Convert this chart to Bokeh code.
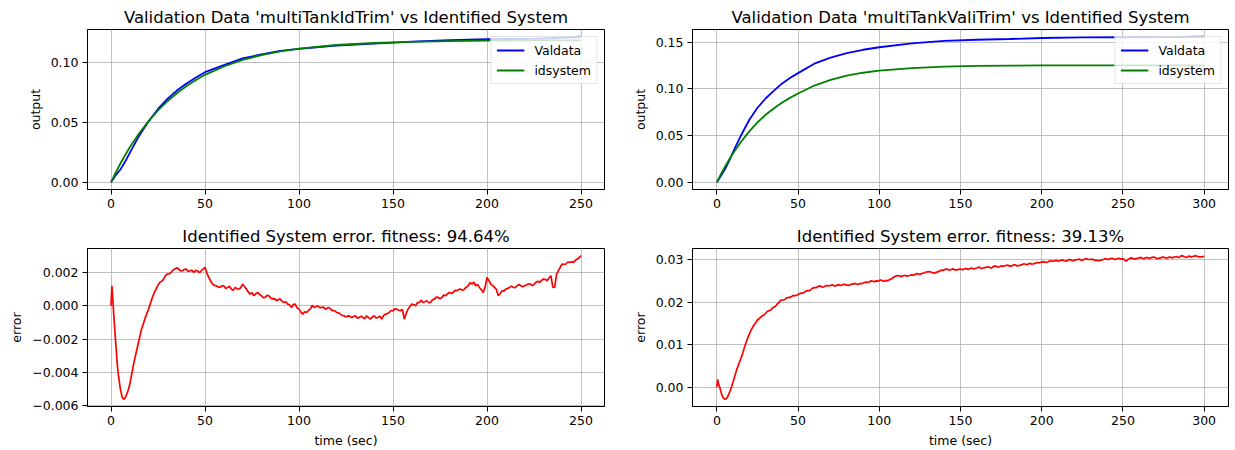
import numpy as np
from bokeh.plotting import figure
from bokeh.layouts import gridplot
from bokeh.models import Range1d, FixedTicker, NumeralTickFormatter, CustomJSTickFormatter
from bokeh.embed import file_html
from bokeh.resources import INLINE

FONT = "DejaVu Sans"

# ---------------------------------------------------------------------------
# Data set 1: 'multiTankIdTrim'
# ---------------------------------------------------------------------------
t_out_id = [0, 2.5, 5, 7.5, 10, 15, 20, 25, 30, 35, 40, 45, 50, 60, 70, 80, 90,
            100, 120, 140, 160, 180, 200, 225, 250]
valdata_id = [0.0, 0.0059, 0.0107, 0.0171, 0.0246, 0.0390, 0.0510, 0.0614, 0.0698,
              0.0768, 0.0826, 0.0876, 0.0922, 0.0982, 0.1038, 0.1071, 0.1100,
              0.1117, 0.1146, 0.1161, 0.1178, 0.1191, 0.1200, 0.1201, 0.1219]
idsystem_id = [0.0, 0.0081, 0.0157, 0.0226, 0.0293, 0.0410, 0.0512, 0.0602, 0.0679,
               0.0746, 0.0804, 0.0855, 0.0900, 0.0970, 0.1025, 0.1065, 0.1096,
               0.1119, 0.1150, 0.1167, 0.1177, 0.1183, 0.1186, 0.1188, 0.1189]

# error samples: every 0.5 s up to 4 s, then every second
t_err_id = np.concatenate([np.arange(0, 4.5, 0.5), np.arange(5, 251)])
error_id = [
    0.0000, 0.0012, 0.0003, -0.0006, -0.0014, -0.0022, -0.0030, -0.0037, -0.0042,
    -0.0050, -0.0055, -0.0056, -0.0054, -0.0051, -0.0047, -0.0041, -0.0035, -0.0030,
    -0.0025, -0.0020, -0.0015,
    -0.00115, -0.0008, -0.00048, -0.0002, 0.00015, 0.0005, 0.00078, 0.0010, 0.00125, 0.0014,
    0.00148, 0.0016, 0.00182, 0.0019, 0.00192, 0.0020, 0.00214, 0.0022, 0.00228, 0.0022,
    0.00209, 0.0021, 0.00218, 0.0022, 0.00205, 0.0021, 0.00213, 0.0020, 0.00212, 0.0021,
    0.00198, 0.0021, 0.00219, 0.0023, 0.00196, 0.0017, 0.00148, 0.0013, 0.00122, 0.0012,
    0.00113, 0.0011, 0.00119, 0.0012, 0.00104, 0.0011, 0.00117, 0.0010, 0.00092, 0.0011,
    0.00102, 0.0010, 0.00108, 0.0013, 0.00116, 0.0010, 0.00083, 0.0007, 0.00078, 0.0006,
    0.00071, 0.0008, 0.00068, 0.0006, 0.00049, 0.0005, 0.00062, 0.0006, 0.00046, 0.0004,
    0.00043, 0.0003, 0.00038, 0.0004, 0.00027, 0.0002, 0.00024, 0.0001, 0.00006, -0.0001,
    0.00008, 0.0001, -0.00012, -0.0002, -0.00038, -0.0005, -0.00036, -0.0004, -0.00028, -0.0002,
    0.00002, -0.0001, -0.00006, 0.0000, -0.00012, -0.0001, -0.00008, -0.0002, -0.00014, -0.0001,
    -0.00022, -0.0003, -0.00028, -0.0004, -0.00042, -0.0005, -0.00058, -0.0006, -0.00068, -0.0006,
    -0.00062, -0.0007, -0.00064, -0.0006, -0.00074, -0.0007, -0.00062, -0.0007, -0.00078, -0.0006,
    -0.00071, -0.0008, -0.00067, -0.0006, -0.00073, -0.0007, -0.00062, -0.0008, -0.00058, -0.0005,
    -0.00047, -0.0004, -0.00028, -0.0003, -0.00018, -0.0002, -0.00027, -0.0003, -0.00022, -0.0008,
    -0.00046, -0.0002, -0.00004, 0.0001, 0.00006, 0.0000, 0.00018, 0.0002, 0.00032, 0.0002,
    0.00024, 0.0003, 0.00018, 0.0002, 0.00036, 0.0004, 0.00052, 0.0005, 0.00042, 0.0005,
    0.00064, 0.0006, 0.00072, 0.0008, 0.00074, 0.0008, 0.00092, 0.0009, 0.00098, 0.0010,
    0.00092, 0.0010, 0.00112, 0.0012, 0.00138, 0.0013, 0.00142, 0.0012, 0.00128, 0.0011,
    0.00096, 0.0008, 0.00112, 0.0017, 0.00152, 0.0013, 0.00122, 0.0011, 0.00098, 0.0006,
    0.00072, 0.0009, 0.00088, 0.0010, 0.00104, 0.0011, 0.00118, 0.0011, 0.00108, 0.0012,
    0.00128, 0.0012, 0.00114, 0.0012, 0.00124, 0.0013, 0.00132, 0.0012, 0.00128, 0.0014,
    0.00148, 0.0014, 0.00152, 0.0016, 0.00158, 0.0015, 0.00168, 0.0018, 0.00112, 0.0011,
    0.00188, 0.0021, 0.00232, 0.0025, 0.00248, 0.0025, 0.00262, 0.0026, 0.00264, 0.0026,
    0.00272, 0.0028, 0.00288, 0.0030,
]
fitness_id = "94.64%"

# ---------------------------------------------------------------------------
# Data set 2: 'multiTankValiTrim'
# ---------------------------------------------------------------------------
t_out_vali = [0, 2.5, 5, 7.5, 10, 15, 20, 25, 30, 35, 40, 45, 50, 60, 70, 80, 90,
              100, 120, 140, 160, 180, 200, 225, 250, 275, 300]
valdata_vali = [0.0, 0.0070, 0.0138, 0.0226, 0.0324, 0.0506, 0.0669, 0.0797, 0.0896,
                0.0978, 0.1055, 0.1115, 0.1168, 0.1269, 0.1334, 0.1381, 0.1418,
                0.1445, 0.1486, 0.1513, 0.1525, 0.1533, 0.1544, 0.1550, 0.1552,
                0.1554, 0.1557]
idsystem_vali = [0.0, 0.0086, 0.0166, 0.0241, 0.0311, 0.0436, 0.0544, 0.0640, 0.0722,
                 0.0790, 0.0850, 0.0903, 0.0950, 0.1035, 0.1095, 0.1140, 0.1172,
                 0.1194, 0.1222, 0.1238, 0.1245, 0.1248, 0.1250, 0.1250, 0.1250,
                 0.1250, 0.1250]

t_err_vali = np.concatenate([np.arange(0, 4.5, 0.5), np.arange(5, 301)])
error_vali = [
    0.0000, 0.0019, 0.0008, 0.0004, -0.0003, -0.0010, -0.0017, -0.0022, -0.0025,
    -0.0028, -0.0026, -0.0019, -0.0010, 0.0001, 0.0013, 0.0026, 0.0039, 0.0050,
    0.0060, 0.0070, 0.0081,
    0.0094, 0.0106, 0.0116, 0.0125, 0.0134, 0.0141, 0.0147, 0.0152, 0.0158, 0.0161,
    0.0165, 0.0168, 0.0170, 0.0174, 0.0178, 0.0180, 0.0181, 0.0185, 0.0188, 0.0190,
    0.0195, 0.0198, 0.0203, 0.0205, 0.0205, 0.0207, 0.0210, 0.0211, 0.0211, 0.0213,
    0.0216, 0.0215, 0.0216, 0.0218, 0.0220, 0.0221, 0.0221, 0.0224, 0.0226, 0.0227,
    0.0227, 0.0230, 0.0233, 0.0234, 0.0234, 0.0236, 0.0238, 0.0237, 0.0235, 0.0236,
    0.0238, 0.0239, 0.0238, 0.0239, 0.0241, 0.0238, 0.0238, 0.0240, 0.0241, 0.0239,
    0.0240, 0.0242, 0.0241, 0.0240, 0.0239, 0.0241, 0.0242, 0.0243, 0.0244, 0.0242,
    0.0242, 0.0244, 0.0243, 0.0245, 0.0246, 0.0247, 0.0246, 0.0248, 0.0250, 0.0249,
    0.0248, 0.0250, 0.0249, 0.0251, 0.0252, 0.0250, 0.0249, 0.0251, 0.0250, 0.0252,
    0.0254, 0.0256, 0.0259, 0.0261, 0.0262, 0.0262, 0.0260, 0.0261, 0.0262, 0.0263,
    0.0261, 0.0262, 0.0263, 0.0264, 0.0263, 0.0265, 0.0267, 0.0266, 0.0265, 0.0267,
    0.0268, 0.0269, 0.0271, 0.0271, 0.0272, 0.0270, 0.0269, 0.0268, 0.0270, 0.0271,
    0.0273, 0.0275, 0.0274, 0.0276, 0.0278, 0.0277, 0.0275, 0.0276, 0.0278, 0.0277,
    0.0275, 0.0276, 0.0277, 0.0278, 0.0276, 0.0277, 0.0279, 0.0278, 0.0277, 0.0279,
    0.0280, 0.0278, 0.0279, 0.0280, 0.0282, 0.0281, 0.0279, 0.0280, 0.0281, 0.0282,
    0.0283, 0.0281, 0.0280, 0.0283, 0.0285, 0.0284, 0.0282, 0.0283, 0.0285, 0.0284,
    0.0285, 0.0286, 0.0287, 0.0285, 0.0284, 0.0286, 0.0288, 0.0287, 0.0285, 0.0286,
    0.0287, 0.0288, 0.0290, 0.0289, 0.0288, 0.0290, 0.0291, 0.0289, 0.0290, 0.0291,
    0.0293, 0.0292, 0.0293, 0.0294, 0.0295, 0.0294, 0.0293, 0.0295, 0.0297, 0.0296,
    0.0296, 0.0297, 0.0298, 0.0296, 0.0297, 0.0298, 0.0299, 0.0297, 0.0296, 0.0298,
    0.0300, 0.0299, 0.0297, 0.0298, 0.0299, 0.0300, 0.0301, 0.0299, 0.0298, 0.0300,
    0.0302, 0.0301, 0.0300, 0.0300, 0.0301, 0.0299, 0.0298, 0.0298, 0.0297, 0.0298,
    0.0299, 0.0300, 0.0302, 0.0301, 0.0300, 0.0302, 0.0303, 0.0302, 0.0300, 0.0301,
    0.0303, 0.0302, 0.0301, 0.0302, 0.0299, 0.0296, 0.0300, 0.0302, 0.0304, 0.0303,
    0.0301, 0.0302, 0.0303, 0.0304, 0.0305, 0.0303, 0.0302, 0.0304, 0.0305, 0.0303,
    0.0304, 0.0305, 0.0306, 0.0304, 0.0302, 0.0303, 0.0304, 0.0305, 0.0306, 0.0304,
    0.0303, 0.0305, 0.0306, 0.0304, 0.0305, 0.0306, 0.0307, 0.0305, 0.0306, 0.0309,
    0.0308, 0.0306, 0.0305, 0.0307, 0.0308, 0.0306, 0.0307, 0.0308, 0.0309, 0.0307,
    0.0306, 0.0306, 0.0307, 0.0307,
]
fitness_vali = "39.13%"

# tick positions
x_ticks_id = [0, 50, 100, 150, 200, 250]
x_ticks_vali = [0, 50, 100, 150, 200, 250, 300]
y_ticks_out_id = [0.0, 0.05, 0.10]
y_ticks_out_vali = [0.0, 0.05, 0.10, 0.15]
y_ticks_err_id = [-0.006, -0.004, -0.002, 0.0, 0.002]
y_ticks_err_vali = [0.0, 0.01, 0.02, 0.03]


def padded(*series):
    """Data limits with a 5 % margin on each side."""
    lo = min(min(s) for s in series)
    hi = max(max(s) for s in series)
    pad = 0.05 * (hi - lo)
    return lo - pad, hi + pad


def make_fig(width, height, left, right, top, bottom, title, xr, yr, xticks, yticks):
    p = figure(width=width, height=height,
               min_border_left=left, min_border_right=right,
               min_border_top=top, min_border_bottom=bottom,
               x_range=Range1d(*xr), y_range=Range1d(*yr),
               title=title, output_backend="svg", toolbar_location=None)
    p.title.text_font = FONT
    p.title.text_font_size = "16.5px"
    p.title.text_font_style = "normal"
    p.title.text_color = "black"
    p.title.align = "center"
    p.title.standoff = 5
    p.outline_line_color = "black"
    p.outline_line_width = 1
    p.outline_line_alpha = 1
    p.background_fill_color = "white"
    p.border_fill_color = "white"

    xt = FixedTicker(ticks=xticks)
    yt = FixedTicker(ticks=yticks)
    p.xaxis.ticker = xt
    p.yaxis.ticker = yt
    p.xgrid.ticker = xt
    p.ygrid.ticker = yt
    for ax in (p.xaxis, p.yaxis):
        ax.axis_line_color = "black"
        ax.major_tick_line_color = "black"
        ax.major_tick_out = 5
        ax.major_tick_in = 0
        ax.minor_tick_line_color = None
        ax.major_label_text_font = FONT
        ax.major_label_text_font_size = "12.5px"
        ax.major_label_text_color = "black"
        ax.major_label_standoff = 4
        ax.axis_label_text_font = FONT
        ax.axis_label_text_font_size = "12.5px"
        ax.axis_label_text_font_style = "normal"
        ax.axis_label_text_color = "black"
        ax.axis_label_standoff = 5
    p.grid.grid_line_color = "#b0b0b0"
    p.grid.grid_line_width = 0.8
    return p


def style_legend(p):
    lg = p.legend[0]
    lg.location = "top_right"
    lg.margin = 7
    lg.padding = 5
    lg.spacing = 4
    lg.glyph_width = 28
    lg.glyph_height = 16
    lg.label_height = 16
    lg.label_standoff = 10
    lg.label_text_font = FONT
    lg.label_text_font_size = "12.5px"
    lg.label_text_color = "black"
    lg.border_line_color = "#cccccc"
    lg.border_line_width = 1
    lg.background_fill_color = "white"
    lg.background_fill_alpha = 0.8


# output comparison, identification data
p1 = make_fig(620, 215, 87, 16, 29, 26,
              "Validation Data 'multiTankIdTrim' vs Identified System",
              padded(t_out_id), padded(valdata_id, idsystem_id),
              x_ticks_id, y_ticks_out_id)
p1.line(t_out_id, valdata_id, color="#0000ff", line_width=1.8, legend_label="Valdata")
p1.line(t_out_id, idsystem_id, color="#008000", line_width=1.8, legend_label="idsystem")
p1.yaxis.axis_label = "output"
p1.yaxis.formatter = NumeralTickFormatter(format="0.00")
style_legend(p1)

# output comparison, validation data
p2 = make_fig(615, 215, 72, 7, 29, 26,
              "Validation Data 'multiTankValiTrim' vs Identified System",
              padded(t_out_vali), padded(valdata_vali, idsystem_vali),
              x_ticks_vali, y_ticks_out_vali)
p2.line(t_out_vali, valdata_vali, color="#0000ff", line_width=1.8, legend_label="Valdata")
p2.line(t_out_vali, idsystem_vali, color="#008000", line_width=1.8, legend_label="idsystem")
p2.yaxis.axis_label = "output"
p2.yaxis.formatter = NumeralTickFormatter(format="0.00")
style_legend(p2)

# error, identification data
p3 = make_fig(620, 235, 87, 16, 33, 44,
              f"Identified System error. fitness: {fitness_id}",
              padded(t_err_id), padded(error_id),
              x_ticks_id, y_ticks_err_id)
p3.line(t_err_id, error_id, color="#ff0000", line_width=1.7)
p3.yaxis.axis_label = "error"
p3.xaxis.axis_label = "time (sec)"
p3.yaxis.formatter = CustomJSTickFormatter(code="""
    if (Math.abs(tick) < 1e-12) { return '0.000'; }
    return (tick < 0 ? '\\u2212' : '') + Math.abs(tick).toFixed(3);
""")

# error, validation data
p4 = make_fig(615, 235, 72, 7, 33, 44,
              f"Identified System error. fitness: {fitness_vali}",
              padded(t_err_vali), padded(error_vali),
              x_ticks_vali, y_ticks_err_vali)
p4.line(t_err_vali, error_vali, color="#ff0000", line_width=1.7)
p4.yaxis.axis_label = "error"
p4.xaxis.axis_label = "time (sec)"
p4.yaxis.formatter = NumeralTickFormatter(format="0.00")

grid = gridplot([[p1, p2], [p3, p4]], toolbar_location=None)

open("out.html", "w").write(file_html(grid, INLINE))
